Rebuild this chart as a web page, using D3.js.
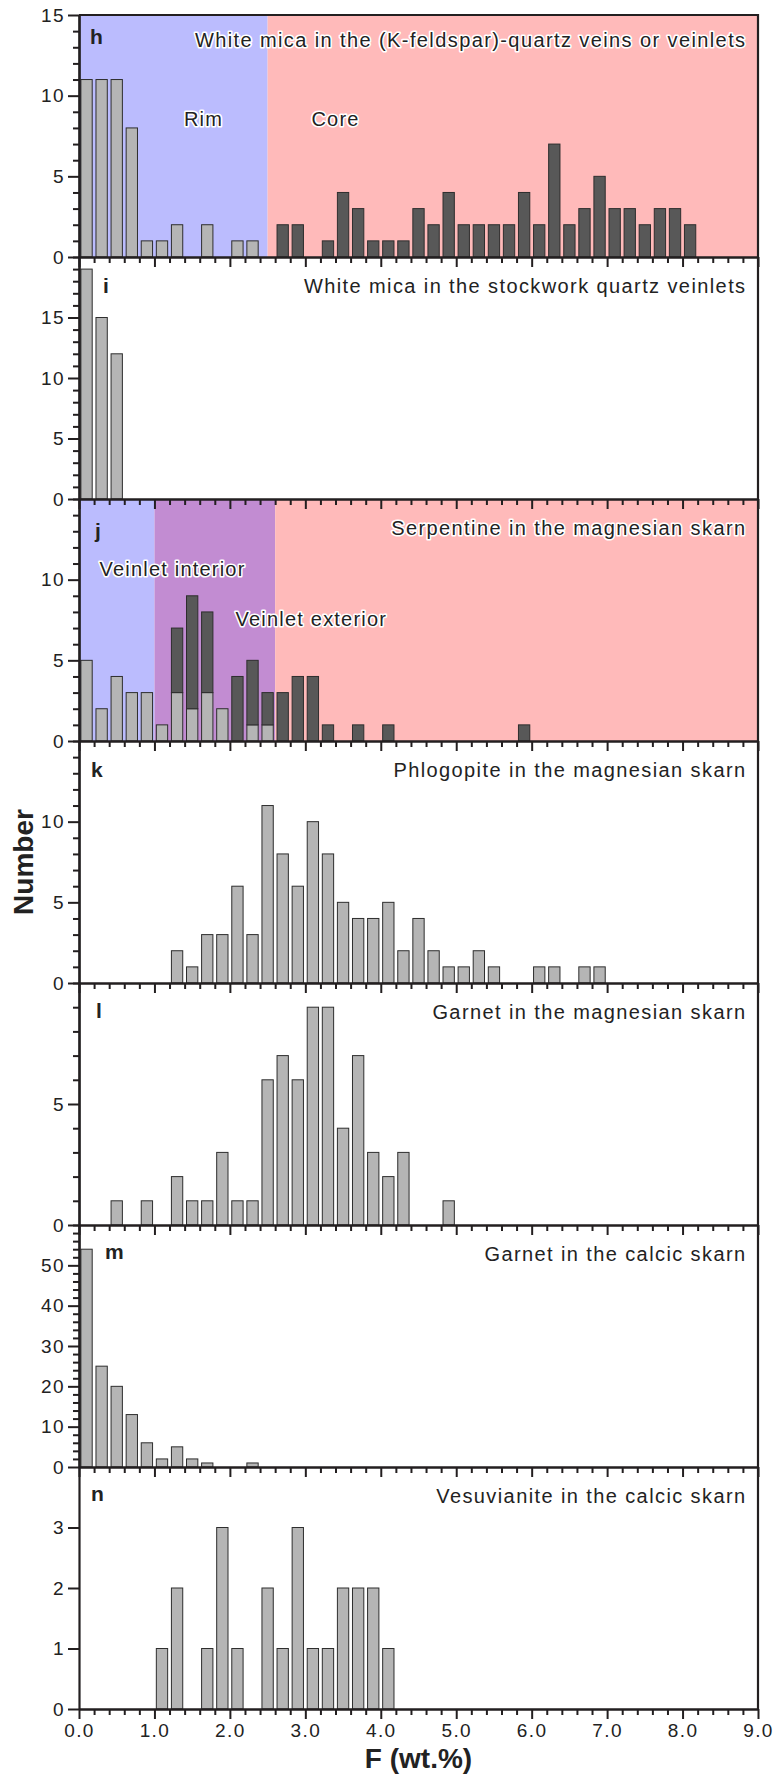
<!DOCTYPE html>
<html>
<head>
<meta charset="utf-8">
<script src="https://cdn.jsdelivr.net/npm/d3@7"></script>
<style>
  html, body { margin: 0; padding: 0; background: #fff; }
  svg { display: block; }
  text { font-family: "Liberation Sans", Arial, Helvetica, sans-serif; }
</style>
</head>
<body>
<svg id="chart" width="777" height="1775"></svg>
<script>
// ---------------- DATA ----------------
const xTickLabels = ["0.0","1.0","2.0","3.0","4.0","5.0","6.0","7.0","8.0","9.0"];
const xTickValues = [0,1,2,3,4,5,6,7,8,9];

// h: White mica in the (K-feldspar)-quartz veins or veinlets
const hRimBins   = [0.1,0.3,0.5,0.7,0.9,1.1,1.3,1.7,2.1,2.3];
const hRimCounts = [11,11,11,8,1,1,2,2,1,1];
const hCoreBins   = [2.7,2.9,3.3,3.5,3.7,3.9,4.1,4.3,4.5,4.7,4.9,5.1,5.3,5.5,5.7,5.9,6.1,6.3,6.5,6.7,6.9,7.1,7.3,7.5,7.7,7.9,8.1];
const hCoreCounts = [2,2,1,4,3,1,1,1,3,2,4,2,2,2,2,4,2,7,2,3,5,3,3,2,3,3,2];

// i: White mica in the stockwork quartz veinlets
const iBins   = [0.1,0.3,0.5];
const iCounts = [19,15,12];

// j: Serpentine in the magnesian skarn (interior stacked below exterior)
const jInteriorBins   = [0.1,0.3,0.5,0.7,0.9,1.1,1.3,1.5,1.7,1.9,2.3,2.5];
const jInteriorCounts = [5,2,4,3,3,1,3,2,3,2,1,1];
const jExteriorBins   = [1.3,1.5,1.7,2.1,2.3,2.5,2.7,2.9,3.1,3.3,3.7,4.1,5.9];
const jExteriorCounts = [4,7,5,4,4,2,3,4,4,1,1,1,1];

// k: Phlogopite in the magnesian skarn
const kBins   = [1.3,1.5,1.7,1.9,2.1,2.3,2.5,2.7,2.9,3.1,3.3,3.5,3.7,3.9,4.1,4.3,4.5,4.7,4.9,5.1,5.3,5.5,6.1,6.3,6.7,6.9];
const kCounts = [2,1,3,3,6,3,11,8,6,10,8,5,4,4,5,2,4,2,1,1,2,1,1,1,1,1];

// l: Garnet in the magnesian skarn
const lBins   = [0.5,0.9,1.3,1.5,1.7,1.9,2.1,2.3,2.5,2.7,2.9,3.1,3.3,3.5,3.7,3.9,4.1,4.3,4.9];
const lCounts = [1,1,2,1,1,3,1,1,6,7,6,9,9,4,7,3,2,3,1];

// m: Garnet in the calcic skarn
const mBins   = [0.1,0.3,0.5,0.7,0.9,1.1,1.3,1.5,1.7,2.3];
const mCounts = [54,25,20,13,6,2,5,2,1,1];

// n: Vesuvianite in the calcic skarn
const nBins   = [1.1,1.3,1.7,1.9,2.1,2.5,2.7,2.9,3.1,3.3,3.5,3.7,3.9,4.1];
const nCounts = [1,2,1,3,1,2,1,3,1,1,2,2,2,1];

const panelLetters = ["h","i","j","k","l","m","n"];
const panelTitles = [
  "White mica in the (K-feldspar)-quartz veins or veinlets",
  "White mica in the stockwork quartz veinlets",
  "Serpentine in the magnesian skarn",
  "Phlogopite in the magnesian skarn",
  "Garnet in the magnesian skarn",
  "Garnet in the calcic skarn",
  "Vesuvianite in the calcic skarn"
];
const yMaxes = [15,20,15,15,10,60,4];
const yLabelTicks = [[0,5,10,15],[0,5,10,15],[0,5,10],[0,5,10],[0,5],[0,10,20,30,40,50],[0,1,2,3]];
const yMinorSteps = [1,1,1,1,1,2,0];

// shaded regions (F wt.% ranges)
const hRegions = [{from:0, to:2.5, kind:"blue"}, {from:2.5, to:9, kind:"pink"}];
const jRegions = [{from:0, to:1.0, kind:"blue"}, {from:1.0, to:2.6, kind:"purple"}, {from:2.6, to:9, kind:"pink"}];
const regionLabelsH = [{text:"Rim", at:1.65, y:8.1}, {text:"Core", at:3.4, y:8.1}];
const regionLabelsJ = [{text:"Veinlet interior", at:1.24, y:10.25}, {text:"Veinlet exterior", at:3.08, y:7.1}];

// ---------------- LAYOUT / STYLE ----------------
const W = 777, H = 1775;
const plotLeft = 79, plotRight = 758, plotTop = 15, panelH = 242;
const regionColors = {blue:"#bbbcfe", pink:"#ffbaba", purple:"#c28cd2"};
const lightFill = "#b5b5b5", darkFill = "#585858", barStroke = "#2e2e2e";
const axisColor = "#231f20";
const textColor = "#222";
const labelOffsets = [29,36,39,36,35,34,34];
const labelXs = [90,103,95,91,96,105,91];
const titleOffsets = [32,36,36,36,36,36,36];
const binWidthUnits = 0.15;

const svg = d3.select("#chart");
const x = d3.scaleLinear().domain([0,9]).range([plotLeft, plotRight]);
const barW = x(binWidthUnits) - x(0);

const panels = [
  {series:[{bins:hRimBins, counts:hRimCounts, fill:lightFill}, {bins:hCoreBins, counts:hCoreCounts, fill:darkFill}], regions:hRegions, rlabels:regionLabelsH},
  {series:[{bins:iBins, counts:iCounts, fill:lightFill}]},
  {stacked:{lower:{bins:jInteriorBins, counts:jInteriorCounts, fill:lightFill}, upper:{bins:jExteriorBins, counts:jExteriorCounts, fill:darkFill}}, regions:jRegions, rlabels:regionLabelsJ},
  {series:[{bins:kBins, counts:kCounts, fill:lightFill}]},
  {series:[{bins:lBins, counts:lCounts, fill:lightFill}]},
  {series:[{bins:mBins, counts:mCounts, fill:lightFill}]},
  {series:[{bins:nBins, counts:nCounts, fill:lightFill}]}
];

const gBg = svg.append("g");
const gBars = svg.append("g");
const gAxes = svg.append("g");
const gText = svg.append("g");

const yScales = panels.map((p, i) => {
  const top = plotTop + i * panelH, bottom = top + panelH;
  return d3.scaleLinear().domain([0, yMaxes[i]]).range([bottom, top]);
});

panels.forEach((p, i) => {
  const y = yScales[i];
  const top = plotTop + i * panelH, bottom = top + panelH;
  // backgrounds
  if (p.regions) {
    gBg.selectAll(null).data(p.regions).enter().append("rect")
      .attr("x", d => x(d.from)).attr("width", d => x(d.to) - x(d.from))
      .attr("y", top).attr("height", bottom - top)
      .attr("fill", d => regionColors[d.kind]);
  }
  const drawBars = (bins, counts, fill, base) => {
    const data = bins.map((b, k) => ({b, c: counts[k], base: base ? base(b) : 0}));
    gBars.selectAll(null).data(data).enter().append("rect")
      .attr("x", d => x(d.b) - barW / 2)
      .attr("width", barW)
      .attr("y", d => y(d.base + d.c))
      .attr("height", d => y(d.base) - y(d.base + d.c))
      .attr("fill", fill)
      .attr("stroke", barStroke)
      .attr("stroke-width", 1);
  };
  if (p.series) p.series.forEach(s => drawBars(s.bins, s.counts, s.fill));
  if (p.stacked) {
    const lo = p.stacked.lower, up = p.stacked.upper;
    const lowerMap = new Map(lo.bins.map((b, k) => [b, lo.counts[k]]));
    drawBars(lo.bins, lo.counts, lo.fill);
    drawBars(up.bins, up.counts, up.fill, b => lowerMap.get(b) || 0);
  }
});

// axes
const styleAxis = g => {
  g.selectAll("path.domain").attr("stroke", axisColor).attr("stroke-width", 2.2);
  g.selectAll(".tick line").attr("stroke", axisColor).attr("stroke-width", 2);
  g.selectAll("text").attr("fill", textColor)
    .style("font-size", "19px").style("letter-spacing", "1.4px")
    .style("font-family", '"Liberation Sans", Arial, sans-serif');
};
const xMinor = d3.range(0, 9.0001, 0.2).map(v => +v.toFixed(1)).filter(v => !xTickValues.includes(v));

panels.forEach((p, i) => {
  const y = yScales[i];
  const top = plotTop + i * panelH, bottom = top + panelH;
  // left minor ticks
  if (yMinorSteps[i] > 0) {
    const vals = d3.range(0, yMaxes[i] + 1e-9, yMinorSteps[i]).filter(v => !yLabelTicks[i].includes(v));
    gAxes.append("g").attr("transform", `translate(${plotLeft},0)`)
      .call(d3.axisLeft(y).tickValues(vals).tickSize(6).tickSizeOuter(0).tickFormat(""))
      .call(styleAxis);
  }
  gAxes.append("g").attr("transform", `translate(${plotLeft},0)`)
    .call(d3.axisLeft(y).tickValues(yLabelTicks[i]).tickSize(11).tickSizeOuter(0).tickPadding(3).tickFormat(d3.format("d")))
    .call(styleAxis);
  // bottom axis
  gAxes.append("g").attr("transform", `translate(0,${bottom})`)
    .call(d3.axisBottom(x).tickValues(xMinor).tickSize(6).tickSizeOuter(0).tickFormat(""))
    .call(styleAxis);
  const isLast = i === panels.length - 1;
  gAxes.append("g").attr("transform", `translate(0,${bottom})`)
    .call(d3.axisBottom(x).tickValues(xTickValues).tickSize(10).tickSizeOuter(0).tickPadding(5)
      .tickFormat((d, k) => isLast ? xTickLabels[k] : ""))
    .call(styleAxis);
});
// top and right frame
gAxes.append("line").attr("x1", plotLeft).attr("x2", plotRight).attr("y1", plotTop).attr("y2", plotTop)
  .attr("stroke", axisColor).attr("stroke-width", 2.2);
gAxes.append("line").attr("x1", plotRight).attr("x2", plotRight).attr("y1", plotTop - 1).attr("y2", plotTop + panelH * panels.length)
  .attr("stroke", axisColor).attr("stroke-width", 2.2);

// texts
const halo = sel => sel.attr("stroke", "#fff").attr("stroke-width", 3.2).attr("stroke-linejoin", "round").style("paint-order", "stroke");
panels.forEach((p, i) => {
  const top = plotTop + i * panelH;
  gText.append("text").attr("x", labelXs[i]).attr("y", top + labelOffsets[i])
    .attr("fill", textColor).style("font-weight", "bold").style("font-size", "21px")
    .text(panelLetters[i]);
  const t = gText.append("text").attr("x", 746.5).attr("y", top + titleOffsets[i])
    .attr("text-anchor", "end").attr("fill", textColor)
    .style("font-size", "20px").style("letter-spacing", "1.4px")
    .text(panelTitles[i]);
  if (p.regions) halo(t);
  if (p.rlabels) {
    const y = yScales[i];
    p.rlabels.forEach(r => {
      gText.append("text").attr("x", x(r.at)).attr("y", y(r.y))
        .attr("text-anchor", "middle").attr("fill", textColor)
        .style("font-size", "20px").style("letter-spacing", "1.2px")
        .call(halo).text(r.text);
    });
  }
});

// axis titles
gText.append("text")
  .attr("transform", `translate(33,${plotTop + panelH * panels.length / 2}) rotate(-90)`)
  .attr("text-anchor", "middle").attr("fill", textColor)
  .style("font-weight", "bold").style("font-size", "28px")
  .text("Number");
gText.append("text")
  .attr("x", (plotLeft + plotRight) / 2).attr("y", 1768)
  .attr("text-anchor", "middle").attr("fill", textColor)
  .style("font-weight", "bold").style("font-size", "28px")
  .text("F (wt.%)");
</script>
</body>
</html>
